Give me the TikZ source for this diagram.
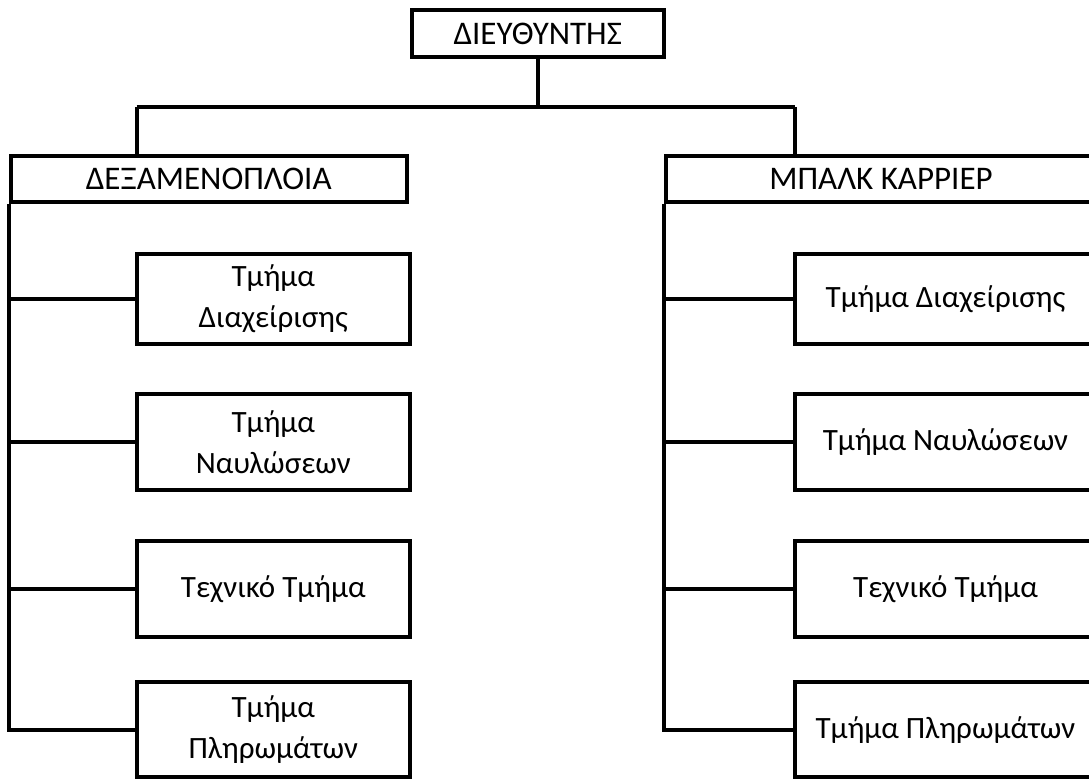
\documentclass[tikz,border=0pt]{standalone}
\usepackage{fontspec}
\setmainfont{Carlito}
\begin{document}
\begin{tikzpicture}[x=0.5pt,y=-0.5pt, line width=2pt, line join=miter,
  box/.style={draw, rectangle, inner sep=0pt, align=center, anchor=center},
  head/.style={box, font=\fontsize{16.5}{19}\selectfont},
  unit/.style={box, font=\fontsize{15.5}{20.5}\selectfont}]
\useasboundingbox (0,0) rectangle (1089,780);
% top
\node[head, minimum width=126.25pt, minimum height=23.5pt] (top) at (537.75,34) {ΔΙΕΥΘΥΝΤΗΣ};
% group headers
\node[head, minimum width=198.25pt, minimum height=23pt] (hl) at (208.75,179) {ΔΕΞΑΜΕΝΟΠΛΟΙΑ};
\node[head, minimum width=215pt, minimum height=23pt] (hr) at (881,179) {ΜΠΑΛΚ ΚΑΡΡΙΕΡ};
% left units
\node[unit, minimum width=136.25pt, minimum height=45pt] (l1) at (273.25,299) {Τμήμα\\Διαχείρισης};
\node[unit, minimum width=136.25pt, minimum height=47.75pt] (l2) at (273.25,442.25) {Τμήμα\\Ναυλώσεων};
\node[unit, minimum width=136.25pt, minimum height=48pt] (l3) at (273.25,589) {Τεχνικό Τμήμα};
\node[unit, minimum width=136.25pt, minimum height=47.25pt] (l4) at (273.25,729.75) {Τμήμα\\Πληρωμάτων};
% right units
\node[unit, minimum width=150.5pt, minimum height=45pt] (r1) at (945.5,299) {Τμήμα Διαχείρισης};
\node[unit, minimum width=150.5pt, minimum height=47.75pt] (r2) at (945.5,442.25) {Τμήμα Ναυλώσεων};
\node[unit, minimum width=150.5pt, minimum height=48pt] (r3) at (945.5,589) {Τεχνικό Τμήμα};
\node[unit, minimum width=150.5pt, minimum height=47.25pt] (r4) at (945.5,729.75) {Τμήμα Πληρωμάτων};
% bus
\coordinate (jl) at (136.5,107.5);
\coordinate (jr) at (795,107.5);
\draw (top.south) -- (top.south |- jl);
\draw (jl) -- (jr);
\draw (jl) -- (jl |- hl.north);
\draw (jr) -- (jr |- hr.north);
% left spine
\draw (hl.south west) -- (hl.south west |- l4.west) -- (l4.west);
\foreach \n in {l1,l2,l3} \draw (hl.south west |- \n.west) -- (\n.west);
% right spine
\draw (hr.south west) -- (hr.south west |- r4.west) -- (r4.west);
\foreach \n in {r1,r2,r3} \draw (hr.south west |- \n.west) -- (\n.west);
\end{tikzpicture}
\end{document}
